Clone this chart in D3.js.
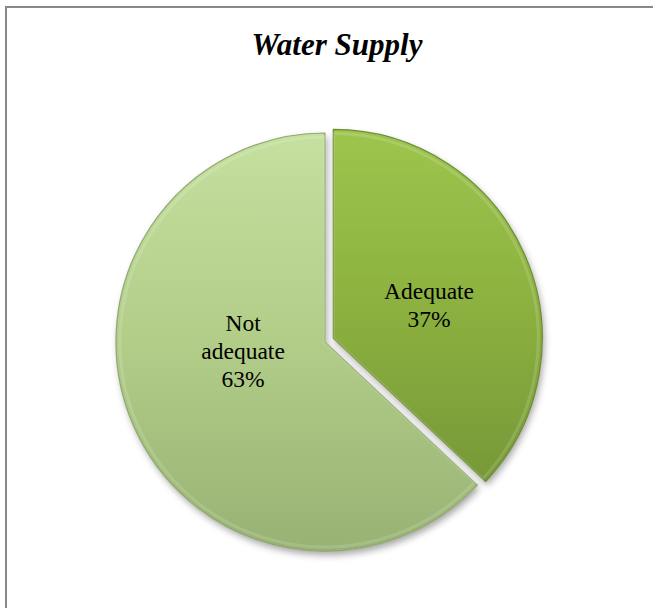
<!DOCTYPE html>
<html>
<head>
<meta charset="utf-8">
<script src="https://cdn.jsdelivr.net/npm/d3@7"></script>
<style>
  html, body { margin: 0; padding: 0; background: #fff; }
  svg { display: block; }
</style>
</head>
<body>
<svg id="chart" width="653" height="608"></svg>
<script>
// ---- data ----
const categories = ["Adequate", "Not adequate"];
const values = [37, 63];
const labelLines = [["Adequate", "37%"], ["Not", "adequate", "63%"]];
const title = "Water Supply";

// ---- layout ----
const W = 653, H = 608;
const cx = 325, cy = 342, R = 209;
const explode = [9, 0];
const labelPos = [{ r: 100, dx: 4, dy: 6 }, { r: 86, dx: -3, dy: -25 }];

const svg = d3.select("#chart");
const defs = svg.append("defs");

// gradients
const grads = [
  { id: "g0", stops: [["0%", "#9dc54e"], ["50%", "#8cb13f"], ["100%", "#779838"]] },
  { id: "g1", stops: [["0%", "#c5e09f"], ["50%", "#b2cd88"], ["100%", "#98b274"]] }
];
grads.forEach(g => {
  const lg = defs.append("linearGradient").attr("id", g.id)
    .attr("x1", 0).attr("y1", 0).attr("x2", 0).attr("y2", 1);
  g.stops.forEach(s => lg.append("stop").attr("offset", s[0]).attr("stop-color", s[1]));
});

// drop shadow
const f = defs.append("filter").attr("id", "shadow")
  .attr("x", "-20%").attr("y", "-20%").attr("width", "140%").attr("height", "140%");
f.append("feDropShadow").attr("dx", 2).attr("dy", 4).attr("stdDeviation", 3.5)
  .attr("flood-color", "#000").attr("flood-opacity", 0.35);

// border (extends past right/bottom)
svg.append("rect").attr("x", 6).attr("y", 7).attr("width", W + 10).attr("height", H + 10)
  .attr("fill", "none").attr("stroke", "#888").attr("stroke-width", 2);

// title
svg.append("text").attr("x", 337).attr("y", 55)
  .attr("text-anchor", "middle")
  .attr("font-family", "'Liberation Serif', 'Times New Roman', serif")
  .attr("font-size", 31).attr("font-weight", "bold").attr("font-style", "italic")
  .attr("fill", "#000").text(title);

const pie = d3.pie().sort(null).value(d => d);
const arcs = pie(values);
const arc = d3.arc().innerRadius(0).outerRadius(R);
const innerArc = d3.arc().innerRadius(0).outerRadius(R - 4);

const g = svg.append("g").attr("transform", `translate(${cx},${cy})`);

const slices = g.selectAll("g.slice").data(arcs).join("g").attr("class", "slice")
  .attr("transform", (d, i) => {
    const a = (d.startAngle + d.endAngle) / 2;
    return `translate(${Math.sin(a) * explode[i]},${-Math.cos(a) * explode[i]})`;
  });

// base with shadow
slices.append("path").attr("d", arc)
  .attr("fill", (d, i) => `url(#g${i})`)
  .attr("filter", "url(#shadow)");

// bevel rim: darker outline
slices.append("path").attr("d", arc)
  .attr("fill", "none")
  .attr("stroke", (d, i) => i === 0 ? "#6d8c33" : "#8fa86d")
  .attr("stroke-width", 1.2).attr("stroke-linejoin", "round");

// bevel highlight: light inner edge
slices.append("path").attr("d", innerArc)
  .attr("fill", "none")
  .attr("stroke", "#ffffff").attr("stroke-opacity", 0.14)
  .attr("stroke-width", 3);

// labels
slices.each(function (d, i) {
  const a = (d.startAngle + d.endAngle) / 2;
  const p = labelPos[i];
  const x = Math.sin(a) * p.r + p.dx;
  const y = -Math.cos(a) * p.r + p.dy;
  const lines = labelLines[i];
  const lh = 28;
  const t = d3.select(this).append("text")
    .attr("text-anchor", "middle")
    .attr("font-family", "'Liberation Serif', 'Times New Roman', serif")
    .attr("font-size", 23.5).attr("fill", "#000");
  lines.forEach((ln, k) => {
    t.append("tspan").attr("x", x)
      .attr("y", y + (k - (lines.length - 1) / 2) * lh + 8)
      .text(ln);
  });
});
</script>
</body>
</html>
